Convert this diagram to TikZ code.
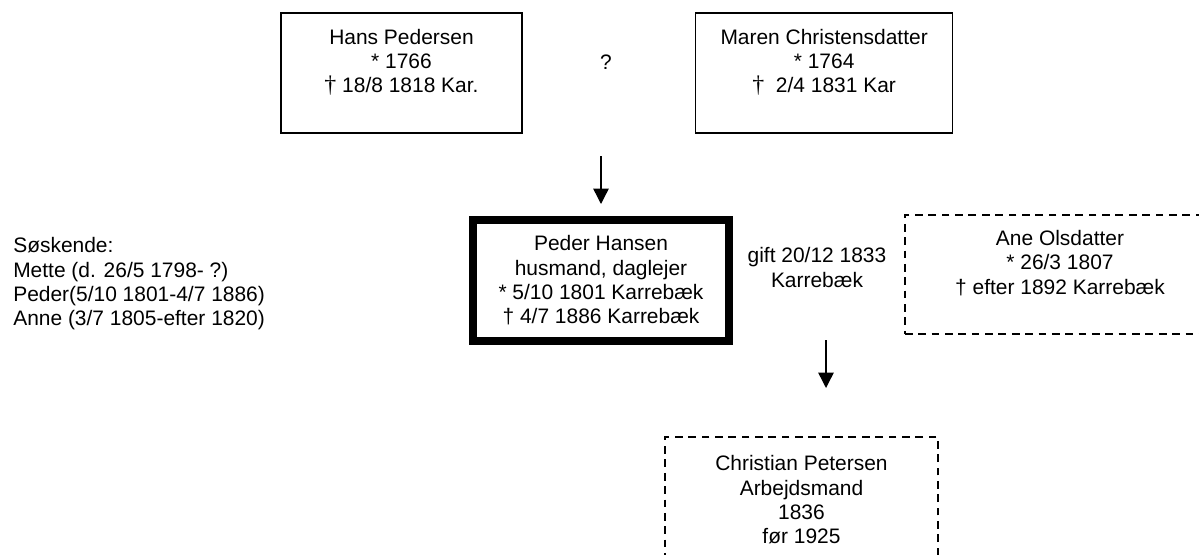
\documentclass[tikz,border=0pt]{standalone}
\usepackage{fontspec}
\setmainfont{Liberation Sans}
\newfontfamily\daggerfont{Liberation Serif}
\usetikzlibrary{arrows.meta,positioning}

\begin{document}
\begin{tikzpicture}[x=0.025cm, y=-0.025cm, node distance=1cm,
    every node/.style={font=\fontsize{14.9}{17.3}\selectfont},
    person/.style={rectangle, draw, line width=1.1pt, align=center,
        inner sep=0pt, minimum height=3cm},
    unsure/.style={person, dash pattern=on 5.5pt off 4pt},
    descent/.style={-{Triangle[length=11pt,width=11pt]}, line width=1pt}]

        \clip (0,0) rectangle (1199,554);

        % parents
        \node (hans) [person, minimum width=6.025cm] at (401.5,73)
        {
            Hans Pedersen\\
            * 1766\\
            {\daggerfont\fontsize{17}{17.3}\selectfont †} 18/8 1818 Kar.\\
            ~
        };

        \node (maren) [person, minimum width=6.425cm, right=4.3cm of hans]
        {
            Maren Christensdatter\\
            * 1764\\
            {\daggerfont\fontsize{17}{17.3}\selectfont †}\ \ 2/4 1831 Kar\\
            ~
        };

        \node (unknown) at (606,62) {?};

        % main person
        \node (peder) [person, line width=5.7pt, minimum width=6.4cm] at (601,280.5)
        {
            Peder Hansen\\
            husmand, daglejer\\
            * 5/10 1801 Karrebæk\\
            † 4/7 1886 Karrebæk
        };

        \node (gift) [align=center] at (817,267.5)
        {
            gift 20/12 1833\\
            Karrebæk
        };

        \node (ane) [unsure, minimum width=7.75cm, minimum height=2.975cm] at (1060,274.5)
        {
            Ane Olsdatter\\
            * 26/3 1807\\
            † efter 1892 Karrebæk\\
            ~
        };

        \node (christian) [unsure, minimum width=6.825cm, minimum height=3.15cm] at (801.5,500)
        {
            Christian Petersen\\
            Arbejdsmand\\
            1836\\
            før 1925
        };

        \node (siblings) [align=left, anchor=west, inner sep=0pt] at (13,284)
        {
            Søskende:\\
            Mette (d. 26/5 1798- ?)\\
            Peder(5/10 1801-4/7 1886)\\
            Anne (3/7 1805-efter 1820)
        };

        \coordinate (parentsout) at (601,156);
        \coordinate (pederin) at (601,204);
        \coordinate (coupleout) at (826,340);
        \coordinate (childin) at (826,388);

        \draw[descent] (parentsout) -- (pederin);
        \draw[descent] (coupleout) -- (childin);
    \end{tikzpicture}
\end{document}
